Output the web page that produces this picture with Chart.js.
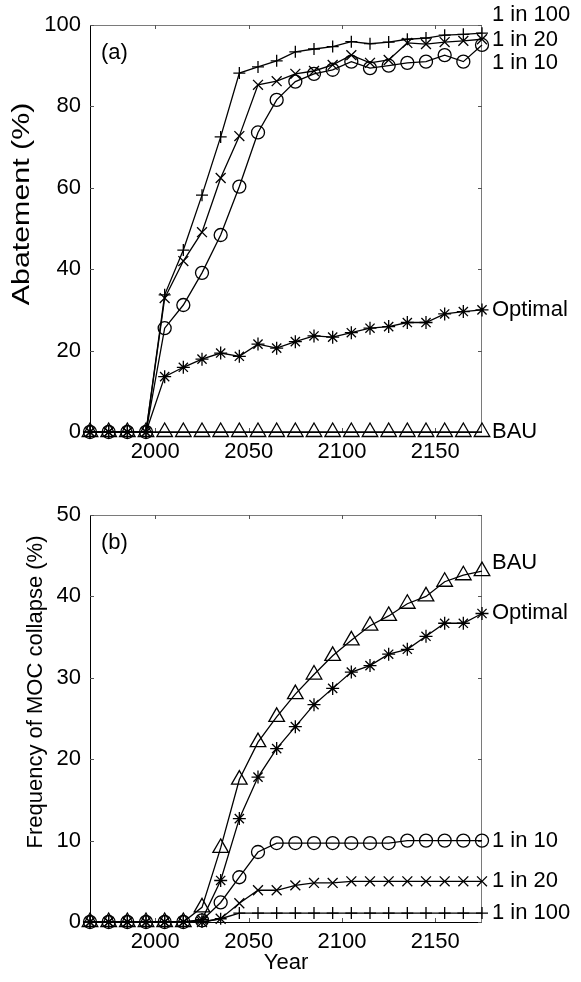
<!DOCTYPE html>
<html>
<head>
<meta charset="utf-8">
<script src="https://cdn.jsdelivr.net/npm/chart.js@4.4.1/dist/chart.umd.min.js"></script>
<style>
  html, body { margin: 0; padding: 0; background: #fff; }
  .painel { position: relative; width: 581px; height: 491px; }
</style>
</head>
<body>
<div class="painel"><canvas id="graficoA"></canvas></div>
<div class="painel"><canvas id="graficoB"></canvas></div>
<script>
// anos (um ponto a cada 10 anos)
const anos = [1965, 1975, 1985, 1995, 2005, 2015, 2025, 2035, 2045, 2055, 2065,
              2075, 2085, 2095, 2105, 2115, 2125, 2135, 2145, 2155, 2165, 2175];
const ticksX = [2000, 2050, 2100, 2150];
const ticksYA = [0, 20, 40, 60, 80, 100];
const ticksYB = [0, 10, 20, 30, 40, 50];

// (a) Abatement (%)
const abat100 = [0, 0, 0, 0, 33.7, 44.7, 58.2, 72.5, 88.2, 89.7, 91.2, 93.4, 94.1, 94.7, 95.9, 95.4, 95.8, 96.5, 96.8, 97.5, 97.7, 98.0];
const abat20  = [0, 0, 0, 0, 32.9, 42.0, 49.1, 62.4, 72.7, 85.3, 86.2, 88.0, 88.7, 90.2, 92.6, 90.7, 91.4, 95.6, 95.3, 95.8, 96.1, 96.5];
const abat10  = [0, 0, 0, 0, 25.5, 31.2, 39.1, 48.4, 60.3, 73.6, 81.6, 86.1, 88.0, 89.0, 91.0, 89.4, 90.0, 90.7, 91.0, 92.6, 91.0, 95.1];
const abatOpt = [0, 0, 0, 0, 13.6, 15.9, 17.9, 19.4, 18.6, 21.6, 20.6, 22.2, 23.6, 23.3, 24.4, 25.5, 25.9, 26.9, 26.9, 29.0, 29.6, 30.0];
const abatBAU = [0, 0, 0, 0, 0, 0, 0, 0, 0, 0, 0, 0, 0, 0, 0, 0, 0, 0, 0, 0, 0, 0];

// (b) Frequency of MOC collapse (%)
const freqBAU = [0, 0, 0, 0, 0, 0, 1.8, 9.1, 17.5, 22.1, 25.2, 28.0, 30.4, 32.7, 34.6, 36.4, 37.6, 39.1, 40.0, 41.8, 42.6, 43.1];
const freqOpt = [0, 0, 0, 0, 0, 0, 0.3, 5.1, 12.7, 17.8, 21.3, 24.0, 26.7, 28.7, 30.7, 31.5, 32.9, 33.5, 35.1, 36.7, 36.7, 37.9];
const freq10  = [0, 0, 0, 0, 0, 0, 0.2, 2.4, 5.5, 8.6, 9.7, 9.7, 9.7, 9.7, 9.7, 9.7, 9.7, 10.0, 10.0, 10.0, 10.0, 10.0];
const freq20  = [0, 0, 0, 0, 0, 0, 0, 0.4, 2.3, 3.9, 3.9, 4.5, 4.8, 4.8, 5.0, 5.0, 5.0, 5.0, 5.0, 5.0, 5.0, 5.0];
const freq100 = [0, 0, 0, 0, 0, 0, 0, 0.4, 1.1, 1.1, 1.1, 1.1, 1.1, 1.1, 1.1, 1.1, 1.1, 1.1, 1.1, 1.1, 1.1, 1.1];

const fonte = "'Liberation Sans', Arial, Helvetica, sans-serif";
Chart.defaults.font.family = fonte;
Chart.defaults.color = '#000';

// moldura, ticks para dentro, rotulos a direita, titulos dos eixos
const molduraPlugin = {
    id: 'moldura',
    beforeDatasetsDraw(chart, args, opts) {
        const { ctx, chartArea: a, scales: { x, y } } = chart;
        ctx.save();
        ctx.lineWidth = 1;
        ctx.strokeStyle = '#7a7a7a';
        ctx.beginPath();
        ctx.moveTo(a.left, a.top + 0.5); ctx.lineTo(a.right, a.top + 0.5);
        ctx.moveTo(a.right - 0.5, a.top); ctx.lineTo(a.right - 0.5, a.bottom);
        ctx.stroke();
        ctx.strokeStyle = '#000';
        ctx.beginPath();
        ctx.moveTo(a.left + 0.5, a.top); ctx.lineTo(a.left + 0.5, a.bottom + 0.5);
        ctx.lineTo(a.right, a.bottom + 0.5);
        ctx.stroke();

        ctx.strokeStyle = '#555';
        ctx.beginPath();
        ticksX.forEach(v => {
            const px = Math.round(x.getPixelForValue(v)) + 0.5;
            ctx.moveTo(px, a.bottom); ctx.lineTo(px, a.bottom - 4);
            ctx.moveTo(px, a.top); ctx.lineTo(px, a.top + 4);
        });
        opts.ticksY.forEach(v => {
            const py = Math.round(y.getPixelForValue(v)) + 0.5;
            ctx.moveTo(a.left, py); ctx.lineTo(a.left + 4, py);
            ctx.moveTo(a.right, py); ctx.lineTo(a.right - 4, py);
        });
        ctx.stroke();
        ctx.restore();
    },
    afterDraw(chart, args, opts) {
        const { ctx, chartArea: a, scales: { y } } = chart;
        ctx.save();
        ctx.fillStyle = '#000';
        ctx.textBaseline = 'middle';
        ctx.textAlign = 'left';
        ctx.font = '22px ' + fonte;
        opts.rotulos.forEach(r => {
            ctx.fillText(r.texto, a.right + 10, y.getPixelForValue(r.valor));
        });
        // letra do painel
        ctx.fillText(opts.letra, a.left + 11, a.top + 28);
        // titulo X (so no painel de baixo)
        if (opts.tituloXeixo) {
            ctx.textAlign = 'center';
            ctx.fillText(opts.tituloXeixo, (a.left + a.right) / 2, opts.tituloXeixoY);
        }
        // titulo Y (esticado como no original)
        ctx.translate(opts.tituloX, opts.tituloCentro);
        ctx.rotate(-Math.PI / 2);
        ctx.scale(opts.tituloEsticar, 1);
        ctx.textAlign = 'center';
        ctx.font = opts.tituloTam + 'px ' + fonte;
        ctx.fillText(opts.titulo, 0, 0);
        ctx.restore();
    }
};

function serie(rotulo, valores, estilo, raio) {
    return {
        label: rotulo,
        data: anos.map((ano, i) => ({ x: ano, y: valores[i] })),
        borderColor: '#000',
        borderWidth: 1.3,
        pointStyle: estilo,
        pointRadius: raio,
        pointBorderColor: '#000',
        pointBorderWidth: 1.3,
        pointBackgroundColor: 'rgba(0,0,0,0)',
        tension: 0,
        clip: false
    };
}

function criarPainel(id, series, yMax, ticksY, extras, alturaX) {
    new Chart(document.getElementById(id), {
        type: 'line',
        data: { datasets: series },
        options: {
            responsive: true,
            maintainAspectRatio: false,
            animation: false,
            layout: { padding: { top: extras.topo, right: 99, left: 0, bottom: 0 } },
            plugins: {
                legend: { display: false },
                tooltip: { enabled: false },
                moldura: Object.assign({ ticksY: ticksY }, extras)
            },
            scales: {
                x: {
                    type: 'linear',
                    min: 1965,
                    max: 2175,
                    afterBuildTicks: s => { s.ticks = ticksX.map(v => ({ value: v })); },
                    afterFit: s => { s.height = alturaX; },
                    grid: { display: false, drawTicks: false },
                    border: { display: false },
                    ticks: { font: { size: 22 }, padding: 7, maxRotation: 0, callback: v => String(v) }
                },
                y: {
                    min: 0,
                    max: yMax,
                    afterBuildTicks: s => { s.ticks = ticksY.map(v => ({ value: v })); },
                    afterFit: s => { s.width = 90; },
                    grid: { display: false, drawTicks: false },
                    border: { display: false },
                    ticks: { font: { size: 22 }, padding: 9, callback: v => String(v) }
                }
            }
        },
        plugins: [molduraPlugin]
    });
}

// --- Painel (a) ---
criarPainel('graficoA', [
    serie('1 in 100', abat100, 'cross', 6),
    serie('1 in 20', abat20, 'crossRot', 7),
    serie('1 in 10', abat10, 'circle', 6.5),
    serie('Optimal', abatOpt, 'star', 6.5),
    serie('BAU', abatBAU, 'triangle', 9)
], 100, ticksYA, {
    topo: 25,
    letra: '(a)',
    titulo: 'Abatement (%)',
    tituloTam: 23,
    tituloEsticar: 1.32,
    tituloX: 23,
    tituloCentro: 204,
    rotulos: [
        { texto: '1 in 100', valor: 102.5 },
        { texto: '1 in 20', valor: 96.3 },
        { texto: '1 in 10', valor: 90.7 },
        { texto: 'Optimal', valor: 29.9 },
        { texto: 'BAU', valor: 0 }
    ]
}, 59);

// --- Painel (b) ---
criarPainel('graficoB', [
    serie('BAU', freqBAU, 'triangle', 9),
    serie('Optimal', freqOpt, 'star', 6.5),
    serie('1 in 10', freq10, 'circle', 6.5),
    serie('1 in 20', freq20, 'crossRot', 7),
    serie('1 in 100', freq100, 'cross', 6)
], 50, ticksYB, {
    topo: 24,
    letra: '(b)',
    titulo: 'Frequency of MOC collapse (%)',
    tituloTam: 22,
    tituloEsticar: 1,
    tituloX: 36,
    tituloCentro: 201,
    tituloXeixo: 'Year',
    tituloXeixoY: 472,
    rotulos: [
        { texto: 'BAU', valor: 44.1 },
        { texto: 'Optimal', valor: 38.0 },
        { texto: '1 in 10', valor: 10.0 },
        { texto: '1 in 20', valor: 5.1 },
        { texto: '1 in 100', valor: 1.1 }
    ]
}, 60);
</script>
</body>
</html>
